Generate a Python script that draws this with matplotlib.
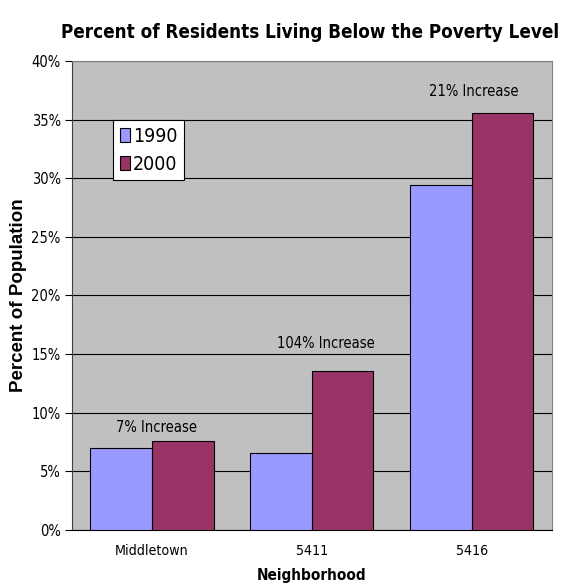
import numpy as np
import matplotlib.pyplot as plt
from matplotlib.ticker import PercentFormatter

neighborhoods = ['Middletown', '5411', '5416']
pct_1990 = [6.98, 6.55, 29.4]
pct_2000 = [7.55, 13.53, 35.6]
change_labels = ['7% Increase', '104% Increase', '21% Increase']

# narrow look like the original Arial Narrow
plt.rcParams['font.family'] = ['DejaVu Sans']
plt.rcParams['font.stretch'] = 'condensed'

fig = plt.figure(figsize=(5.69, 5.86), dpi=100)
ax = fig.add_axes([0.1265, 0.0956, 0.8435, 0.8004])

x = np.arange(len(neighborhoods))
w = 1 / 2.6
ax.bar(x - w / 2, pct_1990, w, color='#9999FF', edgecolor='black', linewidth=0.8, label='1990', zorder=3)
ax.bar(x + w / 2, pct_2000, w, color='#993366', edgecolor='black', linewidth=0.8, label='2000', zorder=3)

# labels above each pair
offsets = [10, 20, 15]
xoff = [3, 10, 1]
for i, lab in enumerate(change_labels):
    top = max(pct_1990[i], pct_2000[i])
    ax.annotate(lab, xy=(x[i], top), xytext=(xoff[i], offsets[i]), textcoords='offset points',
                ha='center', va='center', fontsize=10.5, zorder=4)

ax.set_facecolor('#C0C0C0')
ax.set_xlim(-0.5, 2.5)
ax.set_ylim(0, 40)
ax.set_yticks(np.arange(0, 41, 5))
ax.yaxis.set_major_formatter(PercentFormatter(decimals=0))
ax.grid(axis='y', color='black', linewidth=0.8, zorder=1)
ax.set_xticks(x)
ax.set_xticklabels(neighborhoods)
ax.tick_params(axis='x', length=0, labelsize=10.2, pad=10)
ax.tick_params(axis='y', length=5, labelsize=10.5, pad=3)
for s in ['top', 'right']:
    ax.spines[s].set_color('#808080')
ax.spines['left'].set_color('#404040')
ax.spines['bottom'].set_color('black')

ax.set_xlabel('Neighborhood', fontsize=11, fontweight='bold', labelpad=7)
ax.set_ylabel('Percent of Population', fontsize=13.5, fontweight='bold',
              fontfamily='Liberation Sans', fontstretch='normal', labelpad=3)
fig.text(0.545, 0.944, 'Percent of Residents Living Below the Poverty Level',
         ha='center', va='center', fontsize=13.5, fontweight='bold')

leg = ax.legend(loc='upper left', bbox_to_anchor=(0.085, 0.874), prop={'size': 14},
                frameon=True, fancybox=False, edgecolor='black', framealpha=1,
                handlelength=0.55, handleheight=0.75, handletextpad=0.15,
                borderpad=0.35, labelspacing=0.45, borderaxespad=0)
leg.get_frame().set_linewidth(0.8)

fig.savefig('out.png', dpi=100)
